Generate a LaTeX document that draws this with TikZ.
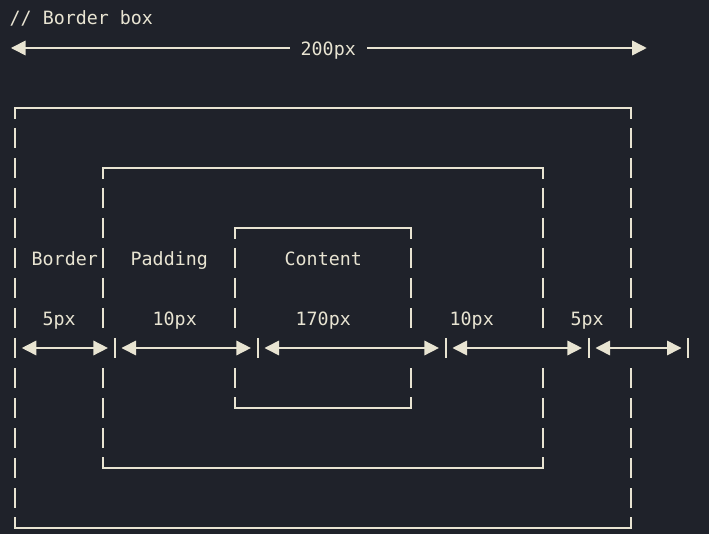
\documentclass[tikz,border=0pt]{standalone}
\usepackage{fontspec}
\setmonofont{DejaVu Sans Mono}
\usetikzlibrary{arrows.meta}
\definecolor{bg}{RGB}{31,34,42}
\definecolor{ink}{RGB}{232,228,210}

\begin{document}
\begin{tikzpicture}[x=1pt,y=-1pt,
    rand/.style={ink, line width=1.3pt},
    balken/.style={ink, line width=1.8pt},
    strich/.style={balken, dash pattern=on 20pt off 10pt},
    mass/.style={ink, line width=1.3pt, {Triangle[length=14.5pt,width=14.6pt]}-{Triangle[length=14.5pt,width=14.6pt]}},
    txt/.style={ink, anchor=base west, inner sep=0pt, font=\ttfamily\fontsize{18.3}{22}\selectfont}]
    % Hintergrund
    \fill[bg] (0,0) rectangle (709,534);
    \useasboundingbox (0,0) rectangle (709,534);
    % Titel
    \node[txt] (titel) at (9.5,25) {// Border box};
    % Gesamtbreite
    \coordinate (gesL) at (11,48);
    \coordinate (gesR) at (646.7,48);
    \draw[mass] (gesL) -- (gesR);
    \node[txt, fill=bg, inner xsep=11pt] (gesamt) at (289.5,55.5) {200px};
    % Rahmen aussen
    \draw[rand] (15,119) -- (15,108) -- (631,108) -- (631,119);
    \draw[rand] (15,517) -- (15,528) -- (631,528) -- (631,517);
    \draw[strich] (15,128) -- (15,508);
    \draw[strich] (631,128) -- (631,328);
    \draw[strich] (631,368) -- (631,508);
    % Padding
    \draw[rand] (103,179) -- (103,168) -- (543,168) -- (543,179);
    \draw[rand] (103,457) -- (103,468) -- (543,468) -- (543,457);
    \draw[strich] (103,188) -- (103,328);
    \draw[strich] (103,368) -- (103,448);
    \draw[strich] (543,188) -- (543,328);
    \draw[strich] (543,368) -- (543,448);
    % Content
    \draw[rand] (235,239) -- (235,228) -- (411,228) -- (411,239);
    \draw[rand] (235,397) -- (235,408) -- (411,408) -- (411,397);
    \draw[strich] (235,248) -- (235,328);
    \draw[strich] (235,368) -- (235,388);
    \draw[strich] (411,248) -- (411,328);
    \draw[strich] (411,368) -- (411,388);
    % Beschriftung
    \node[txt] (lBorder) at (31.5,265.5) {Border};
    \node[txt] (lPadding) at (130.5,265.5) {Padding};
    \node[txt] (lContent) at (284.5,265.5) {Content};
    \node[txt] (wBorderL) at (42.5,326) {5px};
    \node[txt] (wPaddingL) at (152.5,326) {10px};
    \node[txt] (wContent) at (295.5,326) {170px};
    \node[txt] (wPaddingR) at (449.5,326) {10px};
    \node[txt] (wBorderR) at (570.5,326) {5px};
    % Masspfeile
    \coordinate (m0) at (15,348);
    \coordinate (m1) at (114.7,348);
    \coordinate (m2) at (257.7,348);
    \coordinate (m3) at (445.7,348);
    \coordinate (m4) at (588.7,348);
    \coordinate (m5) at (688.3,348);
    \draw[balken] (m1) ++(0,-10) -- ++(0,20);
    \draw[balken] (m2) ++(0,-10) -- ++(0,20);
    \draw[balken] (m3) ++(0,-10) -- ++(0,20);
    \draw[balken] (m4) ++(0,-10) -- ++(0,20);
    \draw[balken] (m5) ++(0,-10) -- ++(0,20);
    \draw[mass, shorten <=6.8pt, shorten >=6.8pt] (m0) -- (m1);
    \draw[mass, shorten <=6.8pt, shorten >=6.8pt] (m1) -- (m2);
    \draw[mass, shorten <=6.8pt, shorten >=6.8pt] (m2) -- (m3);
    \draw[mass, shorten <=6.8pt, shorten >=6.8pt] (m3) -- (m4);
    \draw[mass, shorten <=6.8pt, shorten >=6.8pt] (m4) -- (m5);
\end{tikzpicture}
\end{document}
